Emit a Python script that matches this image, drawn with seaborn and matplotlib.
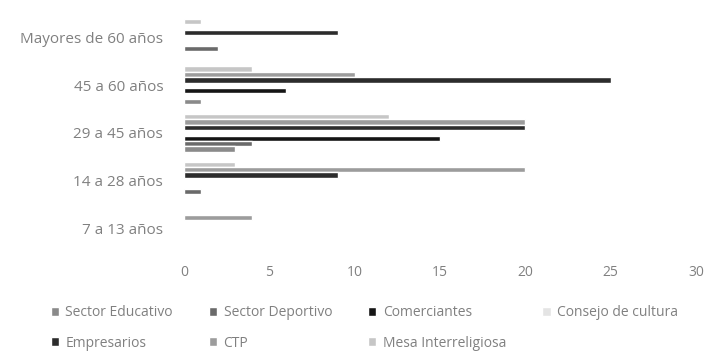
import matplotlib
matplotlib.use("Agg")
import matplotlib.pyplot as plt
import seaborn as sns
import pandas as pd
from matplotlib.patches import Patch

# Categories, top to bottom as drawn
grupos = ["Mayores de 60 años", "45 a 60 años", "29 a 45 años", "14 a 28 años", "7 a 13 años"]

# Series values (same order as grupos)
sector_educativo = [0, 1, 3, 0, 0]
sector_deportivo = [2, 0, 4, 1, 0]
comerciantes = [0, 6, 15, 0, 0]
consejo_cultura = [0, 0, 0, 0, 0]
empresarios = [9, 25, 20, 9, 0]
ctp = [0, 10, 20, 20, 4]
mesa_interreligiosa = [1, 4, 12, 3, 0]

series = {
    "Sector Educativo": sector_educativo,
    "Sector Deportivo": sector_deportivo,
    "Comerciantes": comerciantes,
    "Consejo de cultura": consejo_cultura,
    "Empresarios": empresarios,
    "CTP": ctp,
    "Mesa Interreligiosa": mesa_interreligiosa,
}
colores = {
    "Sector Educativo": "#8a8a8a",
    "Sector Deportivo": "#6a6a6a",
    "Comerciantes": "#151515",
    "Consejo de cultura": "#e4e4e4",
    "Empresarios": "#2c2c2c",
    "CTP": "#9c9c9c",
    "Mesa Interreligiosa": "#c6c6c6",
}

rows = []
for name, vals in series.items():
    for g, v in zip(grupos, vals):
        rows.append({"grupo": g, "serie": name, "valor": v})
df = pd.DataFrame(rows)

sns.set_style("white")
plt.rcParams["font.family"] = ["Open Sans", "DejaVu Sans"]
text_color = "#808080"

fig = plt.figure(figsize=(7.05, 3.56), dpi=100)
ax = fig.add_axes([0.261, 0.292, 0.726, 0.669])

# Excel draws first series at the bottom of each cluster
hue_order = list(series.keys())[::-1]
sns.barplot(
    data=df, y="grupo", x="valor", hue="serie",
    order=grupos, hue_order=hue_order, palette=colores,
    orient="h", width=0.794, dodge=True, gap=0, legend=False, ax=ax,
)

ax.set_xlim(0, 30)
ax.set_xticks(range(0, 31, 5))
ax.set_ylim(4.5, -0.5)
ax.set_xlabel("")
ax.set_ylabel("")
for s in ax.spines.values():
    s.set_visible(False)
ax.tick_params(axis="x", length=0, pad=9, labelsize=10, labelcolor=text_color)
ax.tick_params(axis="y", length=0, pad=15, labelsize=11, labelcolor=text_color)

# Legend in row-wise Excel order, 4 columns
names = list(series.keys())
order = [0, 4, 1, 5, 2, 6, 3]
handles = [Patch(facecolor=colores[names[i]], label=names[i]) for i in order]
fig.legend(
    handles=handles, loc="upper left", bbox_to_anchor=(0.072, 0.142), ncol=4,
    frameon=False, fontsize=10, labelcolor=text_color, borderaxespad=0,
    borderpad=0, handlelength=0.6, handleheight=0.6, handletextpad=0.45,
    columnspacing=2.6, labelspacing=1.1,
)

fig.savefig("out.png", dpi=100)
